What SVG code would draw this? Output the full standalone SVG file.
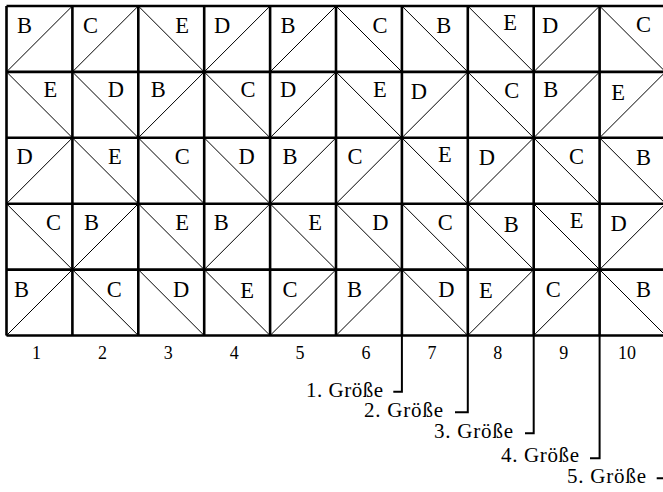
<svg xmlns="http://www.w3.org/2000/svg" width="663" height="492" viewBox="0 0 663 492">
<style>
.bg{fill:#ffffff}
.grid{stroke:#000;stroke-width:2.6;fill:none}
.diag{stroke:#000;stroke-width:1;fill:none}
.lt{font-family:'Liberation Serif','Times New Roman',serif;font-size:22.5px;fill:#000;text-anchor:middle}
.num{font-family:'Liberation Serif','Times New Roman',serif;font-size:18px;fill:#000;text-anchor:middle}
.lab{font-family:'Liberation Serif','Times New Roman',serif;font-size:21px;fill:#000}
.lead{stroke:#000;stroke-width:2;fill:none}
</style>
<rect class="bg" x="0" y="0" width="663" height="492"/>
<g id="grid" class="grid">
<path d="M6.5 6H665.5M6.5 71.9H665.5M6.5 137.8H665.5M6.5 203.7H665.5M6.5 269.6H665.5M6.5 335.5H665.5"/>
<path d="M6.5 6V335.5M72.4 6V335.5M138.3 6V335.5M204.2 6V335.5M270.1 6V335.5M336 6V335.5M401.9 6V335.5M467.8 6V335.5M533.7 6V335.5M599.6 6V335.5M665.5 6V335.5"/>
</g>
<!-- Row 1 -->
<g id="r1c1"><path class="diag" d="M6.5 71.9L72.4 6"/><text class="lt" x="24.5" y="32.5">B</text></g>
<g id="r1c2"><path class="diag" d="M72.4 71.9L138.3 6"/><text class="lt" x="90.4" y="32.5">C</text></g>
<g id="r1c3"><path class="diag" d="M138.3 6L204.2 71.9"/><text class="lt" x="182.2" y="32.5">E</text></g>
<g id="r1c4"><path class="diag" d="M204.2 71.9L270.1 6"/><text class="lt" x="222.2" y="32.5">D</text></g>
<g id="r1c5"><path class="diag" d="M270.1 71.9L336 6"/><text class="lt" x="288.1" y="32.5">B</text></g>
<g id="r1c6"><path class="diag" d="M336 6L401.9 71.9"/><text class="lt" x="379.9" y="32.5">C</text></g>
<g id="r1c7"><path class="diag" d="M401.9 6L467.8 71.9"/><text class="lt" x="443.8" y="32.5">B</text></g>
<g id="r1c8"><path class="diag" d="M467.8 6L533.7 71.9"/><text class="lt" x="510.2" y="29.5">E</text></g>
<g id="r1c9"><path class="diag" d="M533.7 71.9L599.6 6"/><text class="lt" x="550.2" y="32.5">D</text></g>
<g id="r1c10"><path class="diag" d="M599.6 6L665.5 71.9"/><text class="lt" x="643.5" y="31.5">C</text></g>
<!-- Row 2 -->
<g id="r2c1"><path class="diag" d="M6.5 71.9L72.4 137.8"/><text class="lt" x="50.4" y="97">E</text></g>
<g id="r2c2"><path class="diag" d="M72.4 71.9L138.3 137.8"/><text class="lt" x="115.8" y="97">D</text></g>
<g id="r2c3"><path class="diag" d="M138.3 137.8L204.2 71.9"/><text class="lt" x="158.3" y="97">B</text></g>
<g id="r2c4"><path class="diag" d="M204.2 71.9L270.1 137.8"/><text class="lt" x="248.1" y="97">C</text></g>
<g id="r2c5"><path class="diag" d="M270.1 137.8L336 71.9"/><text class="lt" x="288.1" y="97">D</text></g>
<g id="r2c6"><path class="diag" d="M336 71.9L401.9 137.8"/><text class="lt" x="379.9" y="97">E</text></g>
<g id="r2c7"><path class="diag" d="M401.9 137.8L467.8 71.9"/><text class="lt" x="418.9" y="99">D</text></g>
<g id="r2c8"><path class="diag" d="M467.8 71.9L533.7 137.8"/><text class="lt" x="511.7" y="98">C</text></g>
<g id="r2c9"><path class="diag" d="M533.7 137.8L599.6 71.9"/><text class="lt" x="550.7" y="97">B</text></g>
<g id="r2c10"><path class="diag" d="M599.6 137.8L665.5 71.9"/><text class="lt" x="618" y="100">E</text></g>
<!-- Row 3 -->
<g id="r3c1"><path class="diag" d="M6.5 203.7L72.4 137.8"/><text class="lt" x="24.5" y="163.5">D</text></g>
<g id="r3c2"><path class="diag" d="M72.4 137.8L138.3 203.7"/><text class="lt" x="114.8" y="163.5">E</text></g>
<g id="r3c3"><path class="diag" d="M138.3 137.8L204.2 203.7"/><text class="lt" x="182.2" y="163.5">C</text></g>
<g id="r3c4"><path class="diag" d="M204.2 137.8L270.1 203.7"/><text class="lt" x="246.6" y="163.5">D</text></g>
<g id="r3c5"><path class="diag" d="M270.1 203.7L336 137.8"/><text class="lt" x="290.1" y="163.5">B</text></g>
<g id="r3c6"><path class="diag" d="M336 203.7L401.9 137.8"/><text class="lt" x="355" y="163.5">C</text></g>
<g id="r3c7"><path class="diag" d="M401.9 137.8L467.8 203.7"/><text class="lt" x="444.8" y="161.5">E</text></g>
<g id="r3c8"><path class="diag" d="M467.8 203.7L533.7 137.8"/><text class="lt" x="486.8" y="164.5">D</text></g>
<g id="r3c9"><path class="diag" d="M533.7 137.8L599.6 203.7"/><text class="lt" x="576.6" y="163.5">C</text></g>
<g id="r3c10"><path class="diag" d="M599.6 137.8L665.5 203.7"/><text class="lt" x="643.5" y="165">B</text></g>
<!-- Row 4 -->
<g id="r4c1"><path class="diag" d="M6.5 203.7L72.4 269.6"/><text class="lt" x="53.4" y="230">C</text></g>
<g id="r4c2"><path class="diag" d="M72.4 269.6L138.3 203.7"/><text class="lt" x="91.4" y="230">B</text></g>
<g id="r4c3"><path class="diag" d="M138.3 203.7L204.2 269.6"/><text class="lt" x="182.2" y="230">E</text></g>
<g id="r4c4"><path class="diag" d="M204.2 269.6L270.1 203.7"/><text class="lt" x="221.2" y="230">B</text></g>
<g id="r4c5"><path class="diag" d="M270.1 203.7L336 269.6"/><text class="lt" x="315" y="230">E</text></g>
<g id="r4c6"><path class="diag" d="M336 203.7L401.9 269.6"/><text class="lt" x="380.4" y="230">D</text></g>
<g id="r4c7"><path class="diag" d="M401.9 203.7L467.8 269.6"/><text class="lt" x="445.3" y="230">C</text></g>
<g id="r4c8"><path class="diag" d="M467.8 203.7L533.7 269.6"/><text class="lt" x="511.2" y="232">B</text></g>
<g id="r4c9"><path class="diag" d="M533.7 203.7L599.6 269.6"/><text class="lt" x="576.6" y="228">E</text></g>
<g id="r4c10"><path class="diag" d="M599.6 269.6L665.5 203.7"/><text class="lt" x="618.6" y="231">D</text></g>
<!-- Row 5 -->
<g id="r5c1"><path class="diag" d="M6.5 335.5L72.4 269.6"/><text class="lt" x="21.5" y="296.5">B</text></g>
<g id="r5c2"><path class="diag" d="M72.4 269.6L138.3 335.5"/><text class="lt" x="114.3" y="296.5">C</text></g>
<g id="r5c3"><path class="diag" d="M138.3 269.6L204.2 335.5"/><text class="lt" x="181.2" y="296.5">D</text></g>
<g id="r5c4"><path class="diag" d="M204.2 269.6L270.1 335.5"/><text class="lt" x="247.1" y="297.5">E</text></g>
<g id="r5c5"><path class="diag" d="M270.1 335.5L336 269.6"/><text class="lt" x="290.1" y="296.5">C</text></g>
<g id="r5c6"><path class="diag" d="M336 335.5L401.9 269.6"/><text class="lt" x="354.5" y="296.5">B</text></g>
<g id="r5c7"><path class="diag" d="M401.9 269.6L467.8 335.5"/><text class="lt" x="446.3" y="296.5">D</text></g>
<g id="r5c8"><path class="diag" d="M467.8 335.5L533.7 269.6"/><text class="lt" x="485.8" y="297.5">E</text></g>
<g id="r5c9"><path class="diag" d="M533.7 335.5L599.6 269.6"/><text class="lt" x="553.2" y="296.5">C</text></g>
<g id="r5c10"><path class="diag" d="M599.6 269.6L665.5 335.5"/><text class="lt" x="643.5" y="296.5">B</text></g>
<!-- Column numbers -->
<g id="numbers">
<text class="num" x="36.5" y="359">1</text>
<text class="num" x="102.4" y="359">2</text>
<text class="num" x="168.3" y="359">3</text>
<text class="num" x="234.2" y="359">4</text>
<text class="num" x="300.1" y="359">5</text>
<text class="num" x="366" y="359">6</text>
<text class="num" x="431.9" y="359">7</text>
<text class="num" x="497.8" y="359">8</text>
<text class="num" x="563.7" y="359">9</text>
<text class="num" x="627" y="359">10</text>
</g>
<!-- Leaders -->
<g id="connectors" class="lead">
<path d="M401.9 335.5V391.7H393.3"/>
<path d="M467.8 335.5V412.3H455"/>
<path d="M533.7 335.5V433.3H525"/>
<path d="M599.6 335.5V458.3H590"/>
<path d="M665.5 335.5V478.3H656.7"/>
</g>
<g id="labels">
<text class="lab" x="306" y="396.7" textLength="77" lengthAdjust="spacing">1. Größe</text>
<text class="lab" x="364" y="417.3" textLength="79" lengthAdjust="spacing">2. Größe</text>
<text class="lab" x="434" y="438.3" textLength="79" lengthAdjust="spacing">3. Größe</text>
<text class="lab" x="501" y="461.7" textLength="78" lengthAdjust="spacing">4. Größe</text>
<text class="lab" x="567" y="483.3" textLength="79" lengthAdjust="spacing">5. Größe</text>
</g>
</svg>
